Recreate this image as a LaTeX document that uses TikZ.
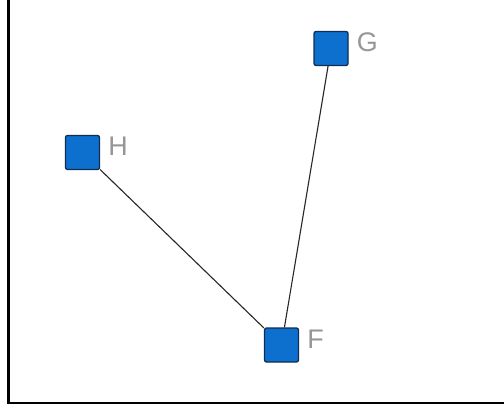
\documentclass[tikz,border=0pt]{standalone}
\usepackage{fontspec}
\setmainfont{Liberation Sans}
\usepackage{tikz}

\definecolor{vfill}{RGB}{14,112,206}
\definecolor{vedge}{RGB}{18,44,82}
\definecolor{vlabel}{RGB}{150,150,150}

\begin{document}
\begin{tikzpicture}[x=1bp, y=1bp,
        vertex/.style={draw=vedge, fill=vfill, line width=1.3bp, rounded corners=2bp,
                       minimum size=34bp, inner sep=0pt,
                       label={[vlabel]east:#1}},
        vlabel/.style={text=vlabel, font=\fontsize{27}{27}\selectfont, inner sep=0pt,
                       label distance=8bp, yshift=6bp},
        link/.style={line width=1.1bp, black!85}]
        \useasboundingbox (0,0) rectangle (504,409);
        \draw[line width=2.2bp] (8.5,409) -- (8.5,6) -- (504,6);

        \node[vertex=H] (H) at (82.5,256.5) {};
        \node[vertex=G] (G) at (331,360.5) {};
        \node[vertex=F] (F) at (281.5,64) {};

        \draw[link] (H) -- (F);
        \draw[link] (G) -- (F);
    \end{tikzpicture}
\end{document}
